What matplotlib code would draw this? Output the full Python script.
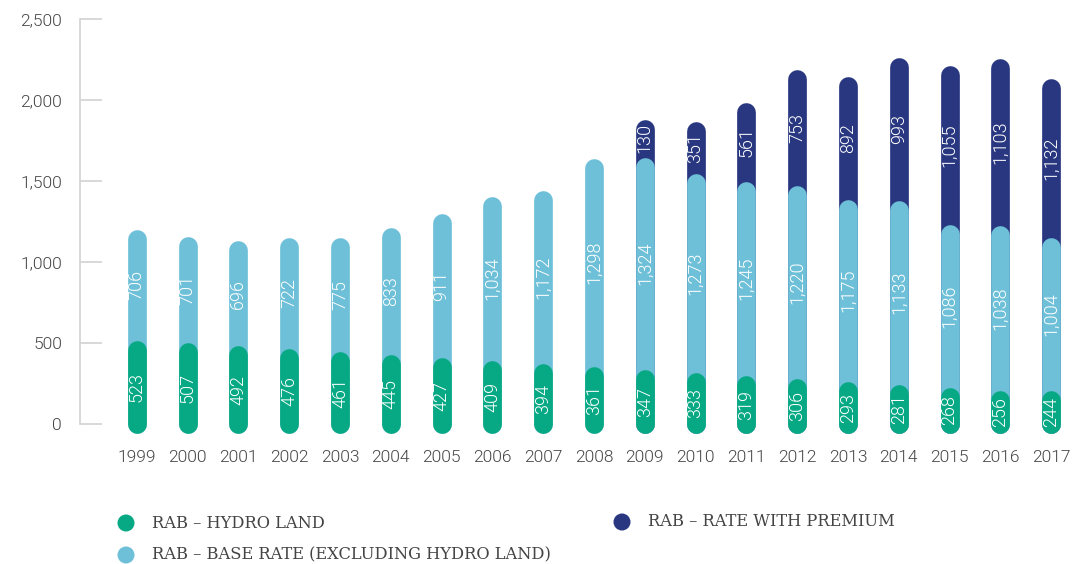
import matplotlib
matplotlib.use("Agg")
import matplotlib.pyplot as plt
from matplotlib.lines import Line2D
from matplotlib.transforms import blended_transform_factory

# ---------------- data ----------------
years = [str(y) for y in range(1999, 2018)]
hydro_land = [523, 507, 492, 476, 461, 445, 427, 409, 394, 361,
              347, 333, 319, 306, 293, 281, 268, 256, 244]
base_rate = [706, 701, 696, 722, 775, 833, 911, 1034, 1172, 1298,
             1324, 1273, 1245, 1220, 1175, 1133, 1086, 1038, 1004]
premium = [None] * 10 + [130, 351, 561, 753, 892, 993, 1055, 1103, 1132]

# bar tops as drawn in the reference picture (cumulative)
hydro_top = [516, 504, 483, 469, 448, 430, 411, 393, 374, 358,
             337, 321, 302, 282, 265, 247, 228, 210, 210]
base_top = [1199, 1158, 1131, 1150, 1154, 1216, 1302, 1405, 1442, 1638,
            1648, 1545, 1498, 1471, 1389, 1378, 1230, 1224, 1152]
premium_top = [None] * 10 + [1883, 1868, 1985, 2187, 2146, 2265, 2212, 2255, 2131]

legend_labels = ["RAB – HYDRO LAND", "RAB – BASE RATE (EXCLUDING HYDRO LAND)",
                 "RAB – RATE WITH PREMIUM"]
yticks = [0, 500, 1000, 1500, 2000, 2500]

# ---------------- style ----------------
C_GREEN = "#07A984"
C_LIGHT = "#6EC0D8"
C_DARK = "#28377F"
C_TEXT = "#444444"
C_AXIS = "#D2D2D2"
SANS = ["Roboto", "DejaVu Sans"]
WEIGHT = 300

W, H, DPI = 1085, 564, 100
fig = plt.figure(figsize=(W / DPI, H / DPI), dpi=DPI)

ax_left, ax_right = 80, 1080
y_top_px, y_bot_px = 19.3, 440
ax = fig.add_axes([ax_left / W, 1 - y_bot_px / H,
                   (ax_right - ax_left) / W, (y_bot_px - y_top_px) / H])
px_per_unit = (424.3 - 19.3) / 2500.0
ax.set_ylim(-(440 - 424.3) / px_per_unit, 2500)
x0, dx = 136.7, 50.8
ax.set_xlim((ax_left - x0) / dx, (ax_right - x0) / dx)

for s in ["top", "right", "bottom"]:
    ax.spines[s].set_visible(False)
ax.spines["left"].set_color(C_AXIS)
ax.spines["left"].set_linewidth(1.2)
ax.spines["left"].set_bounds(0, 2500)
ax.set_xticks([])
ax.set_yticks(yticks)
ax.set_yticklabels([f"{v:,}" for v in yticks])
ax.tick_params(axis="y", direction="in", length=16, width=1.2, color=C_AXIS,
               labelsize=12.5, labelcolor=C_TEXT, pad=13)
for lab in ax.get_yticklabels():
    lab.set_fontfamily(SANS)
    lab.set_fontweight(WEIGHT)

bar_w_px = 18.7
lw_pt = bar_w_px * 72 / DPI
r = (bar_w_px / 2) / px_per_unit  # cap radius in data units

lab_font = dict(family=SANS, fontsize=13, fontweight=WEIGHT, rotation=90,
                ha="center", va="center", color="white")

for i, yr in enumerate(years):
    if premium_top[i] is not None:
        ax.add_line(Line2D([i, i], [0, premium_top[i] - r], color=C_DARK,
                           lw=lw_pt, solid_capstyle="round", zorder=2))
    ax.add_line(Line2D([i, i], [0, base_top[i] - r], color=C_LIGHT,
                       lw=lw_pt, solid_capstyle="round", zorder=3))
    ax.add_line(Line2D([i, i], [0, hydro_top[i] - r], color=C_GREEN,
                       lw=lw_pt, solid_capstyle="round", zorder=4))

    ax.text(i, (hydro_top[i] - r) / 2, f"{hydro_land[i]:,}", zorder=6, **lab_font)
    ax.text(i, (hydro_top[i] + base_top[i]) / 2, f"{base_rate[i]:,}", zorder=6,
            **lab_font)
    if premium[i] is not None:
        ax.text(i, (base_top[i] + premium_top[i]) / 2, f"{premium[i]:,}",
                zorder=6, **lab_font)

tr = blended_transform_factory(ax.transData, fig.transFigure)
for i, yr in enumerate(years):
    ax.text(i, 1 - 457 / H, yr, transform=tr, ha="center", va="center",
            fontsize=12.5, fontweight=WEIGHT, color=C_TEXT, family=SANS)

# ---------------- legend ----------------
lax = fig.add_axes([0, 0, 1, 1])
lax.set_xlim(0, W)
lax.set_ylim(H, 0)
lax.axis("off")
leg_items = [(126, 523, C_GREEN, legend_labels[0]),
             (126, 555, C_LIGHT, legend_labels[1]),
             (622, 522, C_DARK, legend_labels[2])]
for x, y, c, t in leg_items:
    lax.scatter([x], [y], s=150, color=c, edgecolors="none")
    lax.text(x + 26, y, t, ha="left", va="center", fontsize=11.7,
             color=C_TEXT, family=["DejaVu Serif"])

fig.savefig("out.png", dpi=DPI)
